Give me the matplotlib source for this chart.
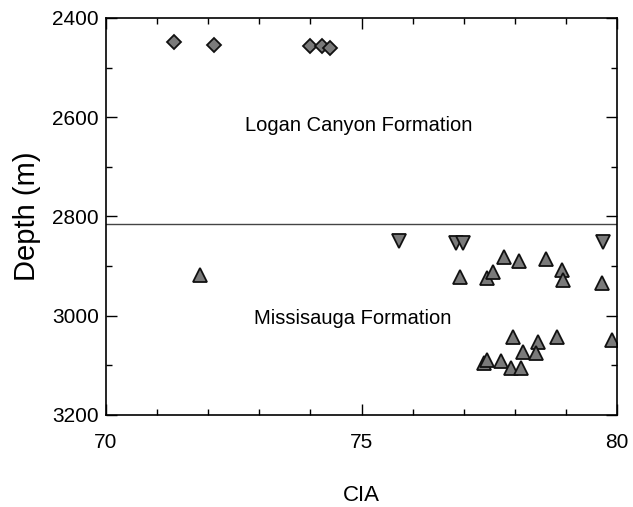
import numpy
from matplotlib import pyplot
from matplotlib.ticker import MultipleLocator

pyplot.rcParams["font.family"] = ["Liberation Sans", "DejaVu Sans"]

# Logan Canyon Formation (diamonds)
logan_cia = [71.33, 72.11, 73.99, 74.22, 74.38]
logan_depth = [2449, 2454, 2456, 2456, 2460]

# Missisauga Formation, inverted triangles
miss_down_cia = [75.74, 76.85, 76.99, 79.72]
miss_down_depth = [2849, 2853, 2853, 2851]

# Missisauga Formation, triangles
miss_up_cia = [71.84, 77.78, 78.09, 78.61, 76.93, 77.46, 77.58, 78.92, 78.94,
               79.70, 77.97, 78.46, 78.82, 79.90, 78.15, 78.41, 77.40, 77.45,
               77.72, 77.92, 78.13]
miss_up_depth = [2918, 2882, 2889, 2885, 2922, 2923, 2911, 2908, 2928,
                 2935, 3042, 3053, 3042, 3048, 3073, 3076, 3095, 3089,
                 3091, 3106, 3106]

boundary = 2815

fig = pyplot.figure(figsize=(6.33, 5.07), dpi=100)
ax = fig.add_axes([0.1675, 0.1815, 0.8073, 0.783])

mstyle = dict(ls="none", mfc="#7a7a7a", mec="#111111", mew=1.3)
ax.plot(logan_cia, logan_depth, marker="D", ms=7.5, **mstyle)
ax.plot(miss_down_cia, miss_down_depth, marker="v", ms=9.5, **mstyle)
ax.plot(miss_up_cia, miss_up_depth, marker="^", ms=9.5, **mstyle)

ax.axhline(boundary, color="#444444", lw=1.0)

ax.text(74.95, 2616, "Logan Canyon Formation", fontsize=14.5, ha="center", va="center")
ax.text(74.83, 3005, "Missisauga Formation", fontsize=14.5, ha="center", va="center")

ax.set_xlim(70, 80)
ax.set_ylim(3200, 2400)
ax.xaxis.set_major_locator(MultipleLocator(5))
ax.xaxis.set_minor_locator(MultipleLocator(1))
ax.yaxis.set_major_locator(MultipleLocator(200))
ax.yaxis.set_minor_locator(MultipleLocator(100))
ax.tick_params(which="both", direction="in", top=True, right=True, labelsize=15, width=1)
ax.tick_params(which="major", length=8)
ax.tick_params(which="minor", length=4)
ax.tick_params(axis="x", pad=13)
ax.tick_params(axis="y", pad=5)
for s in ax.spines.values():
    s.set_linewidth(1.2)

ax.set_xlabel("CIA", fontsize=16, labelpad=24)
ax.set_ylabel("Depth (m)", fontsize=21, labelpad=8)

fig.savefig("out.png", dpi=100)
